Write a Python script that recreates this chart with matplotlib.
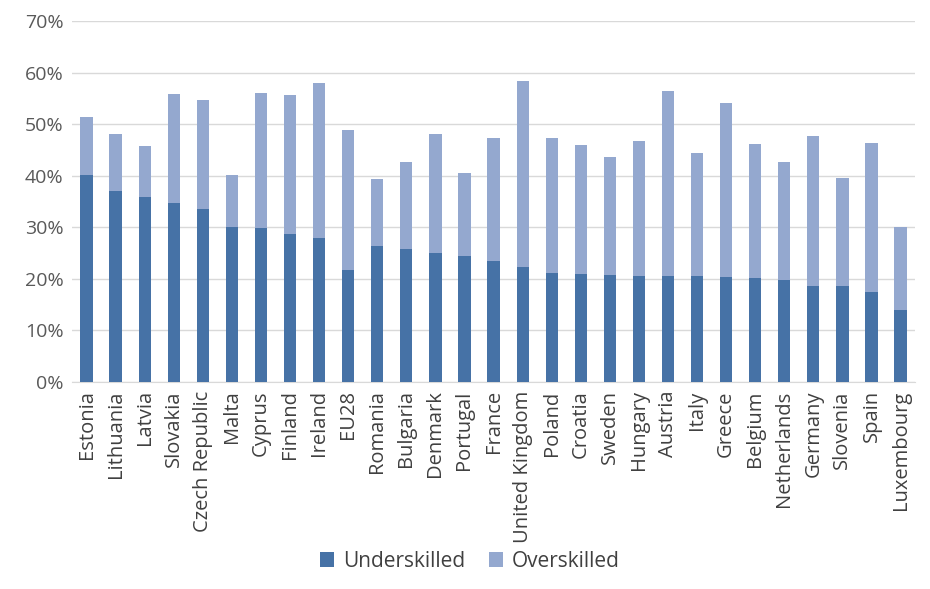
# Grafico de barras apiladas: habilidades por pais
import numpy as np
from matplotlib import pyplot as plt

paises = ['Estonia', 'Lithuania', 'Latvia', 'Slovakia', 'Czech Republic', 'Malta',
          'Cyprus', 'Finland', 'Ireland', 'EU28', 'Romania', 'Bulgaria', 'Denmark',
          'Portugal', 'France', 'United Kingdom', 'Poland', 'Croatia', 'Sweden',
          'Hungary', 'Austria', 'Italy', 'Greece', 'Belgium', 'Netherlands',
          'Germany', 'Slovenia', 'Spain', 'Luxembourg']

# porcentajes
under = [40.2, 37.0, 35.9, 34.7, 33.5, 30.0, 29.8, 28.7, 27.9, 21.8, 26.3, 25.7, 25.0,
         24.4, 23.4, 22.4, 21.2, 20.9, 20.7, 20.6, 20.5, 20.5, 20.3, 20.1, 19.7,
         18.7, 18.7, 17.4, 14.0]
total = [51.3, 48.0, 45.8, 55.8, 54.6, 40.2, 56.0, 55.6, 57.9, 48.9, 39.4, 42.7, 48.0,
         40.5, 47.4, 58.3, 47.4, 46.0, 43.7, 46.8, 56.5, 44.4, 54.2, 46.2, 42.7,
         47.8, 39.6, 46.4, 30.0]
over = [t - u for t, u in zip(total, under)]

plt.rcParams['font.family'] = ['Open Sans', 'DejaVu Sans']

fig = plt.figure(figsize=(9.3, 5.89), dpi=100)
ax = fig.add_axes([0.0774, 0.3514, 0.9066, 0.6129])

x = np.arange(len(paises))
ax.bar(x, under, width=0.42, color='#4672A6', label='Underskilled', zorder=3)
ax.bar(x, over, width=0.42, bottom=under, color='#94A8CF', label='Overskilled', zorder=3)

ax.set_xlim(-0.5, len(paises) - 0.5)
ax.set_ylim(0, 70)
ax.set_yticks(range(0, 71, 10))
ax.set_yticklabels([f'{v}%' for v in range(0, 71, 10)], fontsize=14, color='#595959')
ax.set_xticks(x)
ax.set_xticklabels(paises, rotation=90, fontsize=14.5, color='#404040')
ax.tick_params(axis='both', length=0, pad=6)
ax.grid(axis='y', color='#D9D9D9', linewidth=1, zorder=0)
for s in ['top', 'right', 'left']:
    ax.spines[s].set_visible(False)
ax.spines['bottom'].set_color('#D9D9D9')

fig.legend(loc='center', bbox_to_anchor=(0.505, 0.047), ncol=2, frameon=False,
           fontsize=15, handlelength=0.7, handleheight=0.7, columnspacing=1.15,
           handletextpad=0.4, labelcolor='#404040')

fig.savefig('out.png', dpi=100)
